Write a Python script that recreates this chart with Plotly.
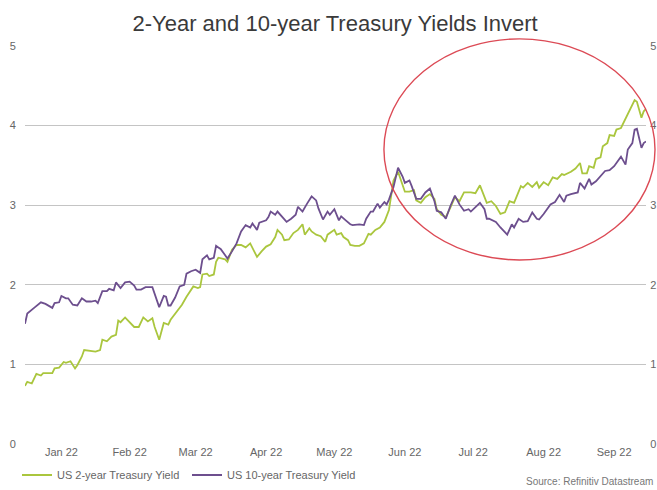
import plotly.graph_objects as go

# US 2-year Treasury yield (%)
dates_2y = [
    "2021-12-31", "2022-01-01", "2022-01-03", "2022-01-04", "2022-01-05", "2022-01-07", "2022-01-08",
    "2022-01-10", "2022-01-12", "2022-01-13", "2022-01-15", "2022-01-17", "2022-01-18", "2022-01-20",
    "2022-01-22", "2022-01-23", "2022-01-25", "2022-01-26", "2022-01-29", "2022-01-31", "2022-02-02",
    "2022-02-03", "2022-02-05", "2022-02-07", "2022-02-09", "2022-02-10", "2022-02-11", "2022-02-13",
    "2022-02-14", "2022-02-17", "2022-02-19", "2022-02-21", "2022-02-23", "2022-02-25", "2022-02-26",
    "2022-02-28", "2022-03-02", "2022-03-04", "2022-03-05", "2022-03-08", "2022-03-10", "2022-03-12",
    "2022-03-13", "2022-03-15", "2022-03-17", "2022-03-18", "2022-03-19", "2022-03-21", "2022-03-22",
    "2022-03-24", "2022-03-25", "2022-03-26", "2022-03-29", "2022-03-30", "2022-04-01", "2022-04-03",
    "2022-04-05", "2022-04-07", "2022-04-09", "2022-04-10", "2022-04-12", "2022-04-14", "2022-04-16",
    "2022-04-18", "2022-04-20", "2022-04-21", "2022-04-23", "2022-04-24", "2022-04-26", "2022-04-28",
    "2022-04-30", "2022-05-02", "2022-05-03", "2022-05-05", "2022-05-06", "2022-05-08", "2022-05-10",
    "2022-05-12", "2022-05-13", "2022-05-16", "2022-05-17", "2022-05-19", "2022-05-20", "2022-05-22",
    "2022-05-23", "2022-05-25", "2022-05-27", "2022-05-29", "2022-05-31", "2022-06-01", "2022-06-03",
    "2022-06-05", "2022-06-07", "2022-06-09", "2022-06-11", "2022-06-13", "2022-06-15", "2022-06-16",
    "2022-06-18", "2022-06-20", "2022-06-21", "2022-06-23", "2022-06-25", "2022-06-27", "2022-06-29",
    "2022-06-30", "2022-07-02", "2022-07-04", "2022-07-06", "2022-07-08", "2022-07-10", "2022-07-12",
    "2022-07-15", "2022-07-17", "2022-07-19", "2022-07-21", "2022-07-22", "2022-07-24", "2022-07-26",
    "2022-07-28", "2022-07-30", "2022-08-01", "2022-08-03", "2022-08-06", "2022-08-07", "2022-08-09",
    "2022-08-11", "2022-08-13", "2022-08-14", "2022-08-16", "2022-08-18", "2022-08-20", "2022-08-22",
    "2022-08-24", "2022-08-25", "2022-08-28", "2022-08-30", "2022-09-01", "2022-09-02", "2022-09-04",
    "2022-09-05", "2022-09-07", "2022-09-08", "2022-09-10", "2022-09-11", "2022-09-13", "2022-09-14",
    "2022-09-16", "2022-09-17", "2022-09-19", "2022-09-21", "2022-09-23", "2022-09-25", "2022-09-26",
    "2022-09-28", "2022-09-29", "2022-09-30",
]
yield_2y = [
    0.73, 0.78, 0.76, 0.82, 0.88, 0.86, 0.89,
    0.89, 0.89, 0.95, 0.96, 1.03, 1.02, 1.04,
    0.95, 0.99, 1.10, 1.18, 1.17, 1.16, 1.18,
    1.31, 1.29, 1.35, 1.37, 1.55, 1.53, 1.59,
    1.56, 1.47, 1.47, 1.59, 1.54, 1.58, 1.47,
    1.31, 1.52, 1.50, 1.56, 1.68, 1.75, 1.85,
    1.89, 1.98, 1.96, 1.97, 2.13, 2.14, 2.11,
    2.13, 2.29, 2.34, 2.32, 2.29, 2.44, 2.50,
    2.50, 2.47, 2.52, 2.46, 2.35, 2.42, 2.48,
    2.51, 2.60, 2.69, 2.63, 2.56, 2.57, 2.65,
    2.69, 2.76, 2.63, 2.71, 2.67, 2.63, 2.61,
    2.54, 2.63, 2.69, 2.63, 2.65, 2.60, 2.56,
    2.50, 2.49, 2.49, 2.52, 2.64, 2.63, 2.69,
    2.72, 2.79, 2.94, 3.31, 3.42, 3.25, 3.17,
    3.17, 3.19, 3.06, 3.03, 3.10, 3.14, 3.08,
    2.95, 2.88, 2.85, 2.97, 3.10, 3.05, 3.16,
    3.16, 3.15, 3.25, 3.10, 3.03, 3.05, 2.99,
    2.89, 2.91, 3.05, 3.03, 3.24, 3.22, 3.28,
    3.23, 3.29, 3.22, 3.29, 3.25, 3.35, 3.33,
    3.39, 3.38, 3.42, 3.46, 3.53, 3.40, 3.40,
    3.49, 3.47, 3.58, 3.60, 3.74, 3.78, 3.88,
    3.87, 3.95, 3.97, 4.08, 4.20, 4.32, 4.30,
    4.10, 4.18, 4.21,
]

# US 10-year Treasury yield (%)
dates_10y = [
    "2021-12-31", "2022-01-01", "2022-01-04", "2022-01-06", "2022-01-07", "2022-01-09", "2022-01-10",
    "2022-01-12", "2022-01-13", "2022-01-15", "2022-01-16", "2022-01-18", "2022-01-19", "2022-01-21",
    "2022-01-23", "2022-01-25", "2022-01-27", "2022-01-29", "2022-01-31", "2022-02-01", "2022-02-03",
    "2022-02-05", "2022-02-06", "2022-02-08", "2022-02-09", "2022-02-11", "2022-02-13", "2022-02-15",
    "2022-02-17", "2022-02-18", "2022-02-20", "2022-02-22", "2022-02-25", "2022-02-26", "2022-02-28",
    "2022-03-02", "2022-03-03", "2022-03-04", "2022-03-05", "2022-03-07", "2022-03-09", "2022-03-11",
    "2022-03-12", "2022-03-14", "2022-03-16", "2022-03-18", "2022-03-19", "2022-03-21", "2022-03-22",
    "2022-03-24", "2022-03-25", "2022-03-26", "2022-03-27", "2022-03-29", "2022-03-30", "2022-04-01",
    "2022-04-03", "2022-04-05", "2022-04-07", "2022-04-09", "2022-04-10", "2022-04-12", "2022-04-13",
    "2022-04-16", "2022-04-17", "2022-04-18", "2022-04-20", "2022-04-21", "2022-04-23", "2022-04-25",
    "2022-04-27", "2022-04-29", "2022-04-30", "2022-05-02", "2022-05-04", "2022-05-06", "2022-05-08",
    "2022-05-09", "2022-05-11", "2022-05-13", "2022-05-14", "2022-05-16", "2022-05-18", "2022-05-19",
    "2022-05-21", "2022-05-23", "2022-05-24", "2022-05-27", "2022-05-29", "2022-05-30", "2022-06-01",
    "2022-06-02", "2022-06-04", "2022-06-05", "2022-06-07", "2022-06-08", "2022-06-09", "2022-06-11",
    "2022-06-13", "2022-06-15", "2022-06-16", "2022-06-18", "2022-06-19", "2022-06-21", "2022-06-23",
    "2022-06-25", "2022-06-27", "2022-06-29", "2022-06-30", "2022-07-02", "2022-07-04", "2022-07-06",
    "2022-07-08", "2022-07-10", "2022-07-12", "2022-07-14", "2022-07-15", "2022-07-17", "2022-07-19",
    "2022-07-21", "2022-07-22", "2022-07-23", "2022-07-26", "2022-07-28", "2022-07-30", "2022-07-31",
    "2022-08-02", "2022-08-03", "2022-08-05", "2022-08-07", "2022-08-09", "2022-08-11", "2022-08-13",
    "2022-08-14", "2022-08-16", "2022-08-17", "2022-08-19", "2022-08-21", "2022-08-23", "2022-08-25",
    "2022-08-26", "2022-08-28", "2022-08-31", "2022-09-01", "2022-09-03", "2022-09-05", "2022-09-06",
    "2022-09-08", "2022-09-10", "2022-09-12", "2022-09-14", "2022-09-16", "2022-09-17", "2022-09-19",
    "2022-09-21", "2022-09-22", "2022-09-24", "2022-09-25", "2022-09-26", "2022-09-28", "2022-09-29",
    "2022-09-30",
]
yield_10y = [
    1.51, 1.64, 1.71, 1.75, 1.78, 1.76, 1.74,
    1.71, 1.77, 1.78, 1.86, 1.83, 1.83, 1.75,
    1.74, 1.83, 1.79, 1.79, 1.80, 1.77, 1.92,
    1.92, 1.95, 1.93, 2.03, 1.96, 2.03, 2.04,
    1.99, 1.94, 1.94, 1.97, 1.97, 1.89, 1.72,
    1.86, 1.85, 1.74, 1.74, 1.84, 1.98, 2.00,
    2.14, 2.17, 2.19, 2.15, 2.32, 2.37, 2.32,
    2.34, 2.49, 2.47, 2.45, 2.37, 2.33, 2.42,
    2.52, 2.67, 2.75, 2.72, 2.77, 2.69, 2.78,
    2.81, 2.85, 2.92, 2.88, 2.92, 2.85, 2.79,
    2.83, 2.88, 2.98, 2.92, 3.02, 3.11, 3.06,
    2.96, 2.82, 2.92, 2.88, 2.95, 2.81, 2.86,
    2.81, 2.76, 2.75, 2.76, 2.75, 2.83, 2.92,
    2.92, 3.02, 2.97, 3.04, 3.01, 3.07, 3.23,
    3.47, 3.36, 3.28, 3.31, 3.24, 3.08, 3.08,
    3.16, 3.21, 3.05, 2.93, 2.91, 2.83, 2.99,
    3.12, 3.01, 2.93, 2.95, 2.92, 2.97, 3.03,
    2.95, 2.83, 2.83, 2.79, 2.72, 2.66, 2.63,
    2.76, 2.72, 2.83, 2.79, 2.80, 2.91, 2.83,
    2.82, 2.89, 2.93, 3.01, 3.04, 3.13, 3.04,
    3.12, 3.14, 3.16, 3.28, 3.21, 3.33, 3.26,
    3.30, 3.37, 3.43, 3.44, 3.49, 3.53, 3.61,
    3.51, 3.70, 3.78, 3.95, 3.96, 3.72, 3.78,
    3.80,
]

# Month labels sit in the middle of each month
month_ticks = ["2022-01-16", "2022-02-15", "2022-03-16", "2022-04-16", "2022-05-16",
               "2022-06-16", "2022-07-16", "2022-08-16", "2022-09-16"]
month_labels = ["Jan 22", "Feb 22", "Mar 22", "Apr 22", "May 22",
                "Jun 22", "Jul 22", "Aug 22", "Sep 22"]
y_ticks = [0, 1, 2, 3, 4, 5]

GREEN = "#aac63e"
PURPLE = "#6d4f8e"
GRID = "#c4c4c4"
TEXT = "#666666"
FONT = "Liberation Sans, Arial, sans-serif"

W, H = 657, 490
M_L, M_R, M_T, M_B = 25, 11, 46, 46

fig = go.Figure()
fig.add_trace(go.Scatter(
    x=dates_2y, y=yield_2y, mode="lines", name="US 2-year Treasury Yield",
    line=dict(color=GREEN, width=1.8),
))
fig.add_trace(go.Scatter(
    x=dates_10y, y=yield_10y, mode="lines", name="US 10-year Treasury Yield",
    line=dict(color=PURPLE, width=1.8), yaxis="y2",
))

axis_y = dict(
    range=[0, 5], tickvals=y_ticks, showline=False, zeroline=False,
    ticks="outside", tickcolor="rgba(0,0,0,0)",
    tickfont=dict(family=FONT, size=11, color=TEXT), fixedrange=True,
    automargin=False,
)

fig.update_layout(
    width=W, height=H,
    margin=dict(l=M_L, r=M_R, t=M_T, b=M_B, autoexpand=False),
    paper_bgcolor="white", plot_bgcolor="white",
    title=dict(
        text="2-Year and 10-year Treasury Yields Invert",
        x=0.51, xanchor="center", y=1 - 23 / H, yanchor="middle",
        font=dict(family=FONT, size=22, color="#3a3a3a"),
    ),
    xaxis=dict(
        range=["2021-12-31", "2022-09-30"], type="date",
        tickvals=month_ticks, ticktext=month_labels,
        showgrid=False, zeroline=False, showline=False,
        ticks="", automargin=False,
        tickfont=dict(family=FONT, size=11, color=TEXT),
    ),
    yaxis=dict(**axis_y, ticklen=6, side="left",
               showgrid=True, gridcolor=GRID, gridwidth=1),
    yaxis2=dict(**axis_y, ticklen=1, side="right", overlaying="y", showgrid=False),
    legend=dict(
        orientation="h", xref="container", x=17 / W, xanchor="left",
        yref="container", y=1 - 475 / H, yanchor="middle",
        font=dict(family=FONT, size=11, color=TEXT),
        entrywidth=125, entrywidthmode="pixels", bgcolor="rgba(0,0,0,0)",
        itemclick=False,
    ),
    showlegend=True,
)

# Red ring highlighting the inversion period
fig.add_shape(
    type="circle", xref="paper", yref="paper",
    x0=0.578, x1=1.0145, y0=0.4624, y1=1.018,
    line=dict(color="#dc4a55", width=1.4), fillcolor="rgba(0,0,0,0)",
    layer="above",
)

fig.add_annotation(
    text="Source: Refinitiv Datastream", xref="paper", yref="paper",
    x=1.0145, xanchor="right", y=-(H - M_T - 1 - (H - M_T - M_B)) / (H - M_T - M_B),
    yanchor="bottom", showarrow=False,
    font=dict(family=FONT, size=10, color="#777777"),
)

fig.write_html("out.html")
